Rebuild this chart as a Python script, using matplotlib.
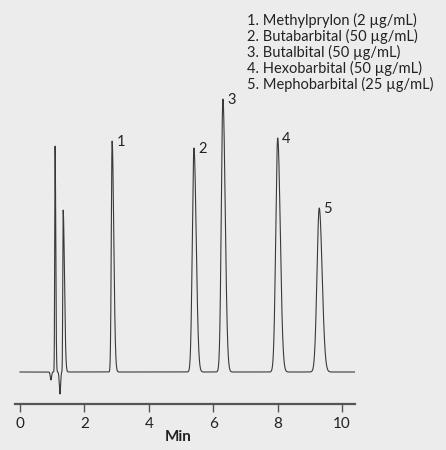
import numpy as np
import matplotlib
matplotlib.use("Agg")
import matplotlib.pyplot as plt

BG, INK = '#ececec', '#3a3a3a'
plt.rcParams.update({'font.family': ['Lato', 'DejaVu Sans'], 'font.size': 10})

# peak table (time in min, height in detector units)
peak_time = [0.96, 1.09, 1.24, 1.34, 2.86, 5.40, 6.30, 8.00, 9.29]
peak_height = [-8, 226, -22, 162, 231, 224, 273, 234, 164]
peak_sig_left = [0.02, 0.012, 0.02, 0.012, 0.025, 0.05, 0.05, 0.06, 0.07]
peak_sig_right = [0.02, 0.02, 0.02, 0.04, 0.05, 0.07, 0.07, 0.08, 0.09]
peak_labels = ['', '', '', '', '1', '2', '3', '4', '5']

legend_lines = ['1. Methylprylon (2 µg/mL)',
                '2. Butabarbital (50 µg/mL)',
                '3. Butalbital (50 µg/mL)',
                '4. Hexobarbital (50 µg/mL)',
                '5. Mephobarbital (25 µg/mL)']

t = np.linspace(0, 10.46, 4000)
y = np.zeros_like(t)
for t0, h, sl, sr in zip(peak_time, peak_height, peak_sig_left, peak_sig_right):
    s = np.where(t < t0, sl, sr)
    y += h * np.exp(-0.5 * ((t - t0) / s) ** 2)

fig = plt.figure(figsize=(4.46, 4.50), dpi=100, facecolor=BG)
ax = fig.add_axes([15 / 446, 46 / 450, 340 / 446, 404 / 450], facecolor=BG)
ax.plot(t, y, color=INK, lw=0.8)
ax.set_xlim(-0.155, 10.4)
ax.set_ylim(-32, 372)

for t0, h, lab in zip(peak_time, peak_height, peak_labels):
    if lab:
        ax.annotate(lab, xy=(t0, h), xytext=(3, -6), textcoords='offset points',
                    ha='left', va='bottom', fontsize=10.5, color='#222')

ax.text(0.683, 0.967, '\n'.join(legend_lines), transform=ax.transAxes,
        ha='left', va='top', fontsize=10.5, color='#222', linespacing=1.06)

for sp in ['top', 'right', 'left']:
    ax.spines[sp].set_visible(False)
ax.spines['bottom'].set_color('#555')
ax.spines['bottom'].set_linewidth(1.6)
ax.set_yticks([])
ax.set_xticks([0, 2, 4, 6, 8, 10])
ax.tick_params(axis='x', direction='out', length=6, width=1, color='#555',
               labelsize=11, labelcolor='#222', pad=3)
ax.text(4.9, -0.065, 'Min', transform=ax.get_xaxis_transform(), ha='center',
        va='top', fontsize=11, fontweight='bold', color='#222')

fig.savefig('out.png', dpi=100, facecolor=BG)
